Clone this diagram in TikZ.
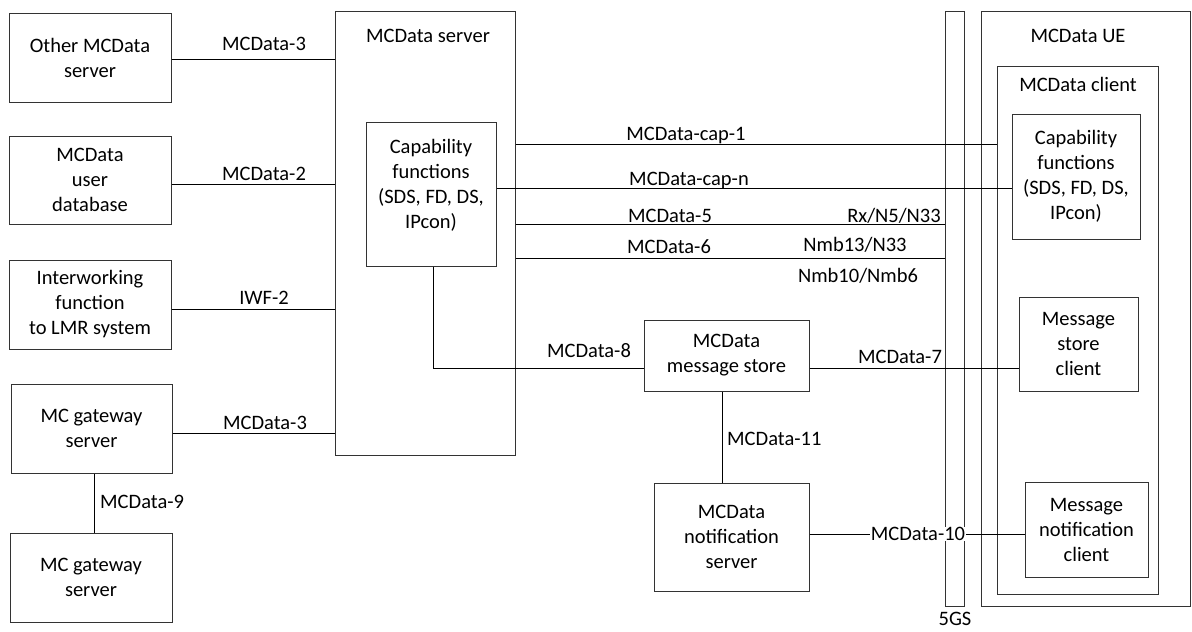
\documentclass[tikz,border=0pt]{standalone}
\usepackage{fontspec}
\setmainfont{Carlito}
\begin{document}
\begin{tikzpicture}[x=1pt,y=-1pt,
  every node/.style={font=\fontsize{20.5}{25}\selectfont},
  box/.style={draw=black!80, line width=1pt, inner sep=0pt, align=center},
  conn/.style={draw=black, line width=1pt},
  lbl/.style={inner sep=1pt, align=center}]
\useasboundingbox (0,0) rectangle (1192,632);
% left boxes
\node[box, minimum width=162pt, minimum height=89pt] (oth) at (90,57.5) {Other MCData\\server};
\node[box, minimum width=162pt, minimum height=88pt] (udb) at (90,180) {MCData\\user\\database};
\node[box, minimum width=162pt, minimum height=89pt] (iwf) at (90,304.5) {Interworking\\function\\to LMR system};
\node[box, minimum width=161pt, minimum height=89pt] (gw1) at (91.5,428.5) {MC gateway\\server};
\node[box, minimum width=162pt, minimum height=89pt] (gw2) at (91,577.5) {MC gateway\\server};
% server
\node[box, minimum width=180pt, minimum height=444pt] (srv) at (425,233) {};
\node[lbl] (srvt) at (428,36) {MCData server};
\node[box, minimum width=130pt, minimum height=144pt] (scap) at (431,194) {};
\node[lbl] (scapt) at (431,185) {Capability\\functions\\(SDS, FD, DS,\\IPcon)};
% message store and notification server
\node[box, minimum width=165pt, minimum height=71pt] (ms) at (726.5,355.5) {MCData\\message store};
\node[box, minimum width=155pt, minimum height=108pt] (ns) at (731.5,537) {MCData\\notification\\server};
% 5GS
\node[box, minimum width=19pt, minimum height=595pt] (g5) at (954.5,308.5) {};
\node[lbl] (g5t) at (955,619) {5GS};
% UE
\node[box, minimum width=209pt, minimum height=595pt] (ue) at (1085.5,308.5) {};
\node[lbl] (uet) at (1078,36) {MCData UE};
\node[box, minimum width=161pt, minimum height=528pt] (cl) at (1077.5,330) {};
\node[lbl] (clt) at (1078,84) {MCData client};
\node[box, minimum width=128pt, minimum height=125pt] (ccap) at (1076,176.5) {Capability\\functions\\(SDS, FD, DS,\\IPcon)};
\node[box, minimum width=119pt, minimum height=94pt] (msc) at (1078.5,344) {Message\\store\\client};
\node[box, minimum width=123pt, minimum height=95pt] (mnc) at (1086.5,529.5) {Message\\notification\\client};
% connectors left
\draw[conn] ([yshift=-1.5pt]oth.east) -- ([yshift=-1.5pt]oth.east -| srv.west);
\draw[conn] ([yshift=-4pt]udb.east) -- ([yshift=-4pt]udb.east -| srv.west);
\draw[conn] ([yshift=-4.5pt]iwf.east) -- ([yshift=-4.5pt]iwf.east -| srv.west);
\draw[conn] ([yshift=-4.5pt]gw1.east) -- ([yshift=-4.5pt]gw1.east -| srv.west);
\draw[conn] ([xshift=2.5pt]gw1.south) -- ([xshift=2.5pt]gw1.south |- gw2.north);
\node[lbl] (l3a) at (264,44) {MCData-3};
\node[lbl] (l2) at (264,174) {MCData-2};
\node[lbl] (liwf) at (264,298) {IWF-2};
\node[lbl] (l3b) at (265,423) {MCData-3};
\node[lbl, anchor=west] (l9) at (99,502) {MCData-9};
% connectors right
\draw[conn] (srv.east |- 0,144) -- (cl.west |- 0,144);
\draw[conn] (scap.east |- 0,188) -- (ccap.west |- 0,188);
\draw[conn] (srv.east |- 0,224) -- (g5.west |- 0,224);
\draw[conn] (srv.east |- 0,258) -- (g5.west |- 0,258);
\node[lbl] (lc1) at (686,135) {MCData-cap-1};
\node[lbl] (lcn) at (689,180) {MCData-cap-n};
\node[lbl] (l5) at (670,216) {MCData-5};
\node[lbl] (lrx) at (894,216) {Rx/N5/N33};
\node[lbl] (l6) at (669,247) {MCData-6};
\node[lbl] (lnmb13) at (855,245) {Nmb13/N33};
\node[lbl] (lnmb10) at (858,276) {Nmb10/Nmb6};
% message store links
\draw[conn] ([xshift=2pt]scap.south) |- ([yshift=-12.5pt]ms.west);
\draw[conn] ([yshift=-12.5pt]ms.east) -- ([yshift=-12.5pt]ms.east -| msc.west);
\draw[conn] ([xshift=-4.5pt]ms.south) -- ([xshift=-4.5pt]ms.south |- ns.north);
\draw[conn] ([yshift=3pt]ns.east) -- ([yshift=3pt]ns.east -| mnc.west);
\node[lbl] (l8) at (589,351) {MCData-8};
\node[lbl] (l7) at (900,357) {MCData-7};
\node[lbl, anchor=west] (l11) at (726,439) {MCData-11};
\node[lbl, fill=white, inner sep=0.5pt] (l10) at (918,534) {MCData-10};
\end{tikzpicture}
\end{document}
